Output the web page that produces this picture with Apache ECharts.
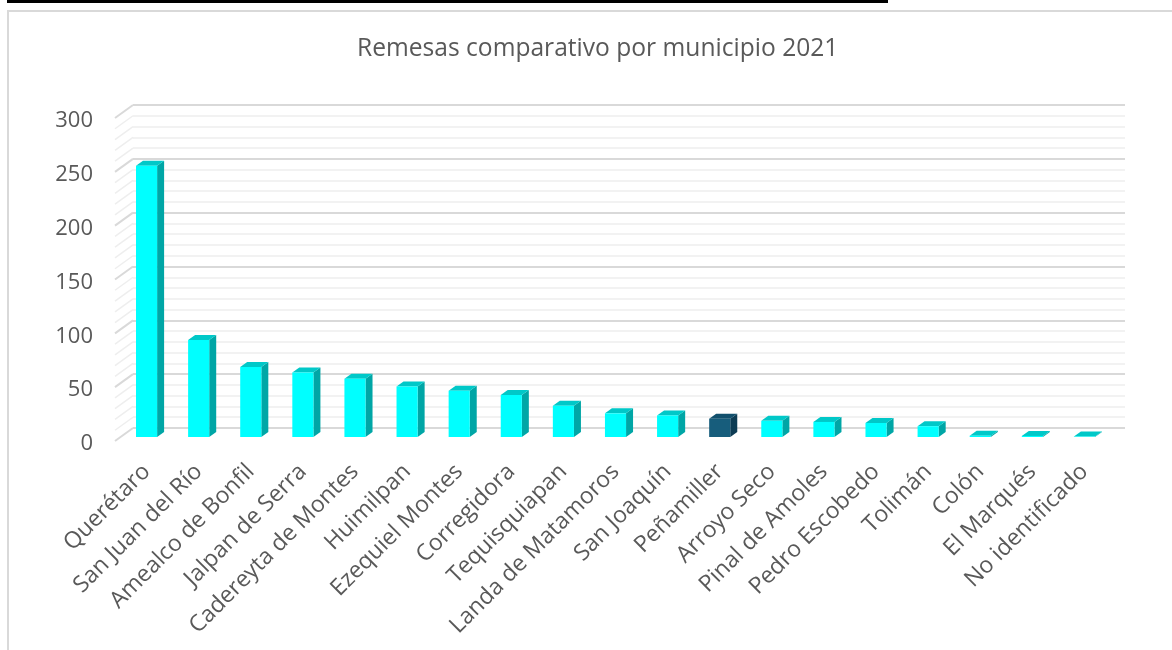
<!DOCTYPE html>
<html>
<head>
<meta charset="utf-8">
<script src="https://cdn.jsdelivr.net/npm/echarts@6/dist/echarts.min.js"></script>
<style>
  html, body { margin: 0; padding: 0; background: #ffffff; }
  #chart { width: 1172px; height: 650px; }
</style>
</head>
<body>
<div id="chart"></div>
<script>
// ---------------- data ----------------
const categories = [
  'Querétaro', 'San Juan del Río', 'Amealco de Bonfil', 'Jalpan de Serra',
  'Cadereyta de Montes', 'Huimilpan', 'Ezequiel Montes', 'Corregidora',
  'Tequisquiapan', 'Landa de Matamoros', 'San Joaquín', 'Peñamiller',
  'Arroyo Seco', 'Pinal de Amoles', 'Pedro Escobedo', 'Tolimán',
  'Colón', 'El Marqués', 'No identificado'
];
const values = [252, 90, 65, 60, 54, 47, 43, 39, 29, 22, 20, 17, 15, 14, 13, 10, 1.2, 1.0, 0.4];
const yTickLabels = [0, 50, 100, 150, 200, 250, 300];
const wallLevels = [0, 10, 20, 30, 40, 50, 60, 70, 80, 90, 100, 110, 120, 130, 140, 150,
  160, 170, 180, 190, 200, 210, 220, 230, 240, 250, 260, 270, 280, 290, 300];
const highlighted = 'Peñamiller';
const titleText = 'Remesas comparativo por municipio 2021';

// ---------------- styles ----------------
const FONT = '"Open Sans", "Liberation Sans", Arial, sans-serif';
const TEXT = '#595959';
const MAJOR = '#d9d9d9';
const MINOR = '#eeeeee';
const yMin = yTickLabels[0], yMax = yTickLabels[yTickLabels.length - 1];
const yStep = yTickLabels[1] - yTickLabels[0];

const chart = echarts.init(document.getElementById('chart'), null, { renderer: 'canvas' });

function renderBar(params, api) {
  const i = api.value(0), v = api.value(1);
  const top = api.coord([i, v]);
  const base = api.coord([i, 0]);
  const bw = api.size([1, 0])[0] * 0.405;
  const dx = 7, dy = -5;
  const x0 = top[0] - bw / 2, x1 = top[0] + bw / 2;
  const yT = top[1], yB = base[1];
  const hi = categories[i] === highlighted;
  const front = hi ? '#175d7c' : '#00ffff';
  const side = hi ? '#0d3c54' : '#00a6a6';
  const topc = hi ? '#12506d' : '#00c8c8';
  return {
    type: 'group',
    children: [
      { type: 'polygon', shape: { points: [[x1, yT], [x1 + dx, yT + dy], [x1 + dx, yB + dy], [x1, yB]] }, style: { fill: side } },
      { type: 'polygon', shape: { points: [[x0, yT], [x1, yT], [x1 + dx, yT + dy], [x0 + dx, yT + dy]] }, style: { fill: topc } },
      { type: 'rect', shape: { x: x0, y: yT, width: bw, height: Math.max(0, yB - yT) }, style: { fill: front } }
    ]
  };
}

function renderWall(params, api) {
  const v = api.value(1);
  const p = api.coord([0, v]);
  const cs = params.coordSys;
  const major = v % yStep === 0;
  return {
    type: 'line',
    shape: { x1: cs.x, y1: p[1], x2: cs.x + 18, y2: p[1] - 13 },
    style: { stroke: major ? MAJOR : MINOR, lineWidth: major ? 2 : 1.5 }
  };
}

const option = {
  backgroundColor: '#ffffff',
  animation: false,
  title: {
    text: titleText,
    left: 352,
    top: 31,
    textStyle: { fontFamily: FONT, fontSize: 24.6, fontWeight: 'normal', color: TEXT }
  },
  graphic: [
    { type: 'rect', shape: { x: 8, y: 11, width: 1300, height: 800 }, style: { fill: 'none', stroke: '#d9d9d9', lineWidth: 2 }, silent: true },
    { type: 'rect', shape: { x: 7, y: 0, width: 881, height: 3 }, style: { fill: '#000000' }, silent: true }
  ],
  grid: [
    // back wall
    { left: 133, right: 47, top: 105, bottom: 222 },
    // front plane (left wall front edge)
    { left: 115, right: 65, top: 118, bottom: 209 },
    // bar plane
    { left: 120.5, right: 61.5, top: 114, bottom: 213 },
    // value labels plane
    { left: 115, right: 65, top: 121, bottom: 206 }
  ],
  xAxis: [
    { gridIndex: 0, type: 'category', data: categories, show: false },
    { gridIndex: 1, type: 'category', data: categories, show: false },
    {
      gridIndex: 2, type: 'category', data: categories,
      axisLine: { show: false }, axisTick: { show: false },
      axisLabel: { interval: 0, rotate: 45, margin: 31, color: TEXT, fontFamily: FONT, fontSize: 23 }
    },
    { gridIndex: 3, type: 'category', data: categories, show: false }
  ],
  yAxis: [
    {
      gridIndex: 0, type: 'value', min: yMin, max: yMax, interval: yStep,
      axisLabel: { show: false }, axisLine: { show: false }, axisTick: { show: false },
      splitLine: { show: true, lineStyle: { color: MAJOR, width: 2 } },
      minorTick: { show: false, splitNumber: 5 },
      minorSplitLine: { show: true, lineStyle: { color: MINOR, width: 1.5 } }
    },
    { gridIndex: 1, type: 'value', min: yMin, max: yMax, show: false, splitLine: { show: false } },
    { gridIndex: 2, type: 'value', min: yMin, max: yMax, show: false, splitLine: { show: false } },
    {
      gridIndex: 3, type: 'value', min: yMin, max: yMax, interval: yStep,
      axisLine: { show: false }, axisTick: { show: false }, splitLine: { show: false },
      axisLabel: { margin: 22, color: TEXT, fontFamily: FONT, fontSize: 22 }
    }
  ],
  series: [
    {
      type: 'custom', xAxisIndex: 1, yAxisIndex: 1,
      data: wallLevels.map(v => [0, v]),
      renderItem: renderWall, silent: true, z: 1
    },
    {
      type: 'custom', xAxisIndex: 2, yAxisIndex: 2,
      data: values.map((v, i) => [i, v]),
      renderItem: renderBar, z: 3
    }
  ]
};
chart.setOption(option);
</script>
</body>
</html>
